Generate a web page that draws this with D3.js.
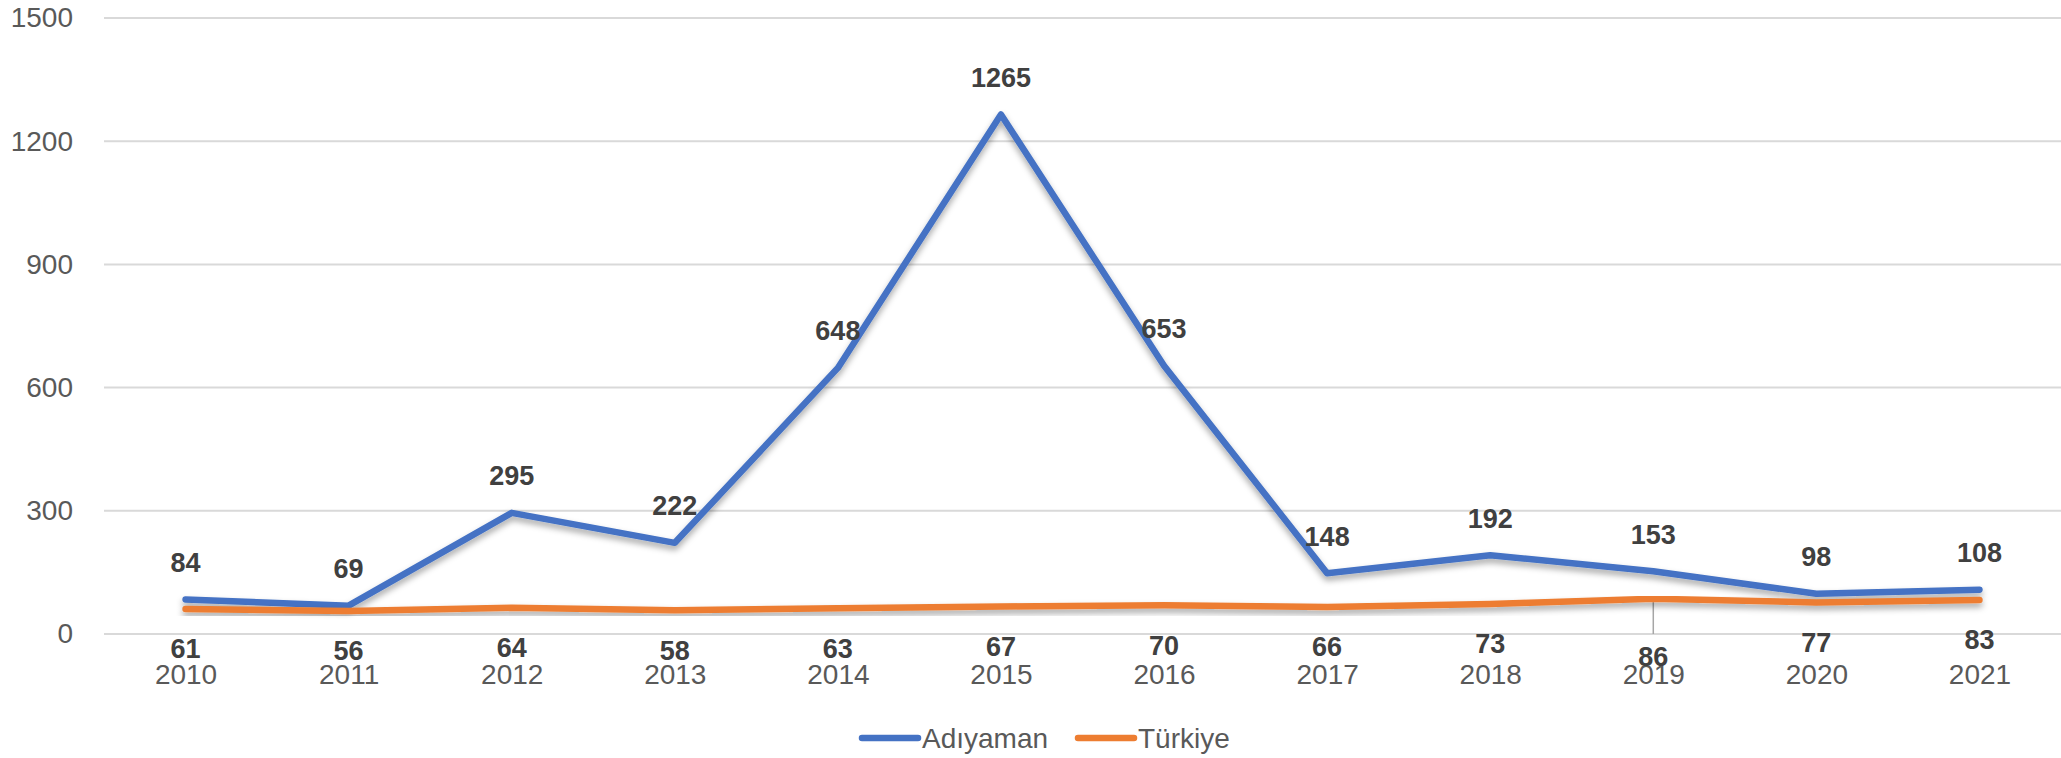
<!DOCTYPE html>
<html>
<head>
<meta charset="utf-8">
<script src="https://cdn.jsdelivr.net/npm/d3@7"></script>
<style>
  body { margin: 0; background: #fff; }
  text { font-family: "Liberation Sans", Arial, sans-serif; }
</style>
</head>
<body>
<div id="chart"></div>
<script>
// data
const years = ["2010","2011","2012","2013","2014","2015","2016","2017","2018","2019","2020","2021"];
const adiyaman = [84, 69, 295, 222, 648, 1265, 653, 148, 192, 153, 98, 108];
const turkiye = [61, 56, 64, 58, 63, 67, 70, 66, 73, 86, 77, 83];
const yTicks = [0, 300, 600, 900, 1200, 1500];
const seriesNames = ["Adıyaman", "Türkiye"];
const seriesColors = ["#4472C4", "#ED7D31"];

const width = 2061, height = 758;
const margin = {top: 18, right: 0, bottom: 124, left: 104};

const svg = d3.select("#chart").append("svg")
    .attr("width", width)
    .attr("height", height);

// drop shadow like the office chart
const defs = svg.append("defs");
const filt = defs.append("filter").attr("id", "shadow")
    .attr("x", "-5%").attr("y", "-20%").attr("width", "110%").attr("height", "160%");
filt.append("feDropShadow")
    .attr("dx", 0).attr("dy", 4).attr("stdDeviation", 3)
    .attr("flood-color", "#000").attr("flood-opacity", 0.35);

const x = d3.scalePoint()
    .domain(years)
    .range([margin.left, width - margin.right])
    .padding(0.5);

const y = d3.scaleLinear()
    .domain([0, 1500])
    .range([height - margin.bottom, margin.top]);

// gridlines
svg.append("g")
  .selectAll("line")
  .data(yTicks)
  .join("line")
    .attr("x1", margin.left)
    .attr("x2", width - margin.right)
    .attr("y1", d => y(d))
    .attr("y2", d => y(d))
    .attr("stroke", "#d9d9d9")
    .attr("stroke-width", 2);

// y axis labels
const yAxis = svg.append("g")
    .attr("transform", `translate(${margin.left},0)`)
    .call(d3.axisLeft(y).tickValues(yTicks).tickFormat(d3.format("d")).tickSize(0).tickPadding(31));
yAxis.select(".domain").remove();
yAxis.selectAll("text")
    .attr("font-size", 28)
    .attr("font-family", "Liberation Sans, Arial, sans-serif")
    .attr("fill", "#595959");

// x axis labels
const xAxis = svg.append("g")
    .attr("transform", `translate(0,${y(0)})`)
    .call(d3.axisBottom(x).tickSize(0).tickPadding(30));
xAxis.select(".domain").remove();
xAxis.selectAll("text")
    .attr("font-size", 28)
    .attr("font-family", "Liberation Sans, Arial, sans-serif")
    .attr("fill", "#595959");

// odd little drop line at 2019 in the original
svg.append("line")
    .attr("x1", x("2019")).attr("x2", x("2019"))
    .attr("y1", y(turkiye[9])).attr("y2", y(0))
    .attr("stroke", "#a6a6a6")
    .attr("stroke-width", 1.5);

const line = d3.line()
    .x((d, i) => x(years[i]))
    .y(d => y(d));

const allSeries = [adiyaman, turkiye];

svg.append("g")
  .selectAll("path")
  .data(allSeries)
  .join("path")
    .attr("d", d => line(d))
    .attr("fill", "none")
    .attr("stroke", (d, i) => seriesColors[i])
    .attr("stroke-width", 6.5)
    .attr("stroke-linejoin", "round")
    .attr("stroke-linecap", "round")
    .attr("filter", "url(#shadow)");

// data labels: Adıyaman above, Türkiye below
svg.append("g")
  .selectAll("text")
  .data(adiyaman)
  .join("text")
    .attr("x", (d, i) => x(years[i]))
    .attr("y", d => y(d) - 37)
    .attr("dy", "0.35em")
    .attr("text-anchor", "middle")
    .attr("font-size", 27)
    .attr("font-weight", "bold")
    .attr("fill", "#404040")
    .text(d => d);

svg.append("g")
  .selectAll("text")
  .data(turkiye)
  .join("text")
    .attr("x", (d, i) => x(years[i]))
    .attr("y", (d, i) => y(d) + (years[i] === "2019" ? 58 : 40))
    .attr("dy", "0.35em")
    .attr("text-anchor", "middle")
    .attr("font-size", 27)
    .attr("font-weight", "bold")
    .attr("fill", "#404040")
    .text(d => d);

// legend
const legendX = [862, 1078];
const legend = svg.append("g")
  .selectAll("g")
  .data(seriesNames)
  .join("g")
    .attr("transform", (d, i) => `translate(${legendX[i]},738)`);
legend.append("line")
    .attr("x1", 0).attr("x2", 56)
    .attr("stroke", (d, i) => seriesColors[i])
    .attr("stroke-width", 6.5)
    .attr("stroke-linecap", "round");
legend.append("text")
    .attr("x", 60)
    .attr("dy", "0.35em")
    .attr("font-size", 28)
    .attr("fill", "#595959")
    .text(d => d);
</script>
</body>
</html>
